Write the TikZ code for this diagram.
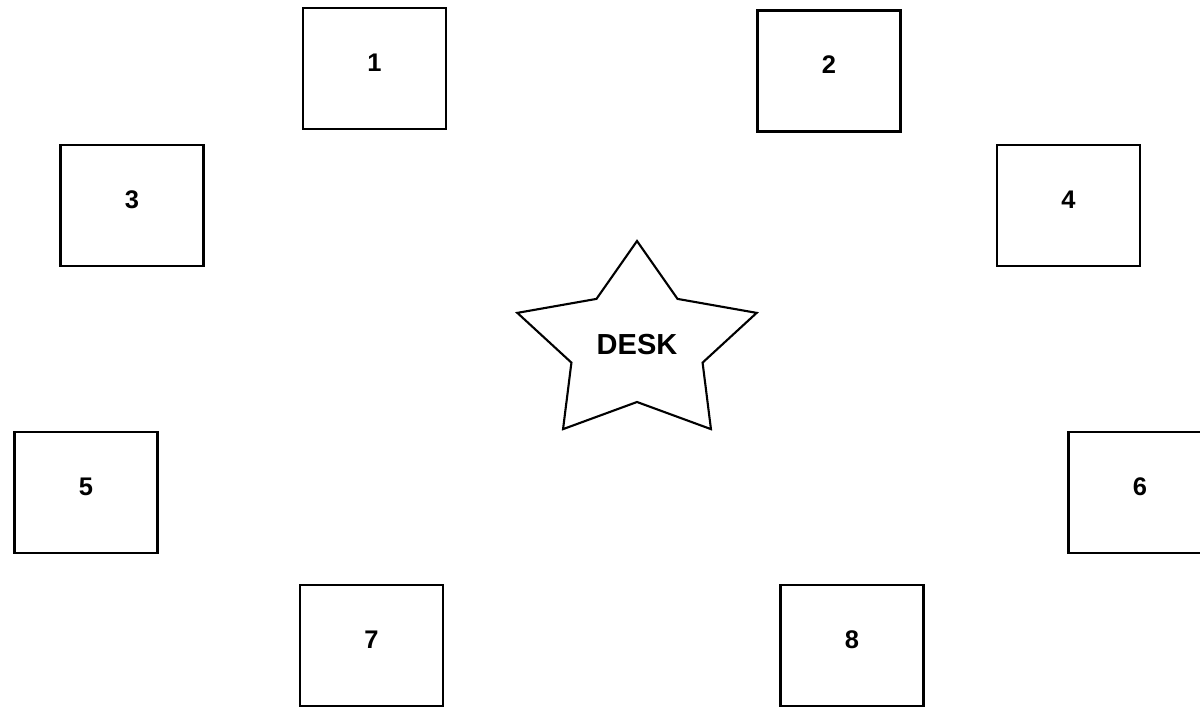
\documentclass[tikz,border=0pt]{standalone}
\usepackage{fontspec}
\setmainfont{Liberation Sans}

\begin{document}
\begin{tikzpicture}[x=0.02cm, y=-0.02cm, line width=1.2pt,
    seatbox/.style={draw, minimum width=2.86cm, minimum height=2.42cm,
      inner sep=0pt, text height=10pt, text depth=7pt, font=\fontsize{14.5}{16}\selectfont\bfseries}]
  \clip (0,0) rectangle (1200,707);
  \node[seatbox] (seat1) at (374.5,68.5) {1};
  \node[seatbox] (seat2) at (829,71) {2};
  \node[seatbox] (seat3) at (132,205.5) {3};
  \node[seatbox] (seat4) at (1068.5,205.5) {4};
  \node[seatbox] (seat5) at (86,492.5) {5};
  \node[seatbox] (seat6) at (1140,492.5) {6};
  \node[seatbox] (seat7) at (371.5,645.5) {7};
  \node[seatbox] (seat8) at (852,645.5) {8};
  % desk in the middle
  \begin{scope}[shift={(637,345)}, xscale=1.21]
    \draw (90:2.08cm) -- (126:1.14cm) -- (162:2.08cm) -- (198:1.14cm)
      -- (234:2.08cm) -- (270:1.14cm) -- (306:2.08cm) -- (342:1.14cm)
      -- (18:2.08cm) -- (54:1.14cm) -- cycle;
  \end{scope}
  \node[font=\fontsize{16.5}{19}\selectfont\bfseries] (desk) at (637,345) {DESK};
\end{tikzpicture}
\end{document}
